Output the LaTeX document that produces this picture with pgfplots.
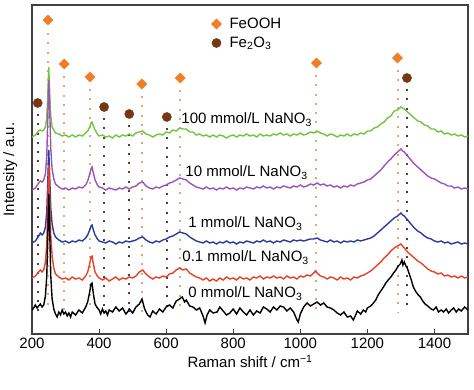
\documentclass[border=0pt]{standalone}
\usepackage{fontspec}
\setmainfont{Liberation Sans}
\usepackage{pgfplots}
\pgfplotsset{compat=1.18}
\usetikzlibrary{calc}
\definecolor{cgreen}{RGB}{112,198,62}
\definecolor{cpurple}{RGB}{155,85,185}
\definecolor{cblue}{RGB}{40,60,160}
\definecolor{cred}{RGB}{232,65,40}
\definecolor{corange}{RGB}{240,126,38}
\definecolor{cbrown}{RGB}{120,55,20}
\definecolor{dotor}{RGB}{232,165,105}
\definecolor{dotbr}{RGB}{85,62,50}
\begin{document}
\begin{tikzpicture}[font=\fontsize{15}{18}\selectfont]
\begin{axis}[
  width=436pt, height=329pt, scale only axis,
  xmin=200, xmax=1500, ymin=0, ymax=329,
  xtick={200,400,...,1400}, ytick=\empty,
  xtick pos=bottom, tick align=inside, major tick length=5pt,
  axis line style={draw=black!75, line width=1.1pt},
  every tick/.style={black!75, line width=1pt},
  /pgf/number format/assume math mode=true,
  /pgf/number format/1000 sep={},
  xlabel={Raman shift / cm\textsuperscript{−1}},
  ylabel={Intensity / a.u.},
  ylabel style={at={(axis description cs:-0.05,0.5)}, anchor=center},
  unbounded coords=jump,
  legend style={at={(axis description cs:0.411,0.967)}, anchor=north west, draw=none, fill=none, inner sep=0pt, row sep=3pt, nodes={inner sep=2pt}},
  legend cell align=left,
]
% dotted guide lines
\addplot[forget plot, dotor, line width=2pt, dash pattern=on 2pt off 7.3pt] coordinates {
(248,301)(248,22)(248,nan)
(296,258)(296,22)(296,nan)
(373,245)(373,22)(373,nan)
(527,238)(527,22)(527,nan)
(642,244)(642,22)(642,nan)
(1048,259)(1048,22)(1048,nan)
(1290,264)(1290,22)};
\addplot[forget plot, dotbr, line width=2pt, dash pattern=on 2pt off 7.3pt] coordinates {
(217,220)(217,22)(217,nan)
(415,216)(415,22)(415,nan)
(490,209)(490,22)(490,nan)
(602,206)(602,22)(602,nan)
(1318,245)(1318,22)};
% 100 mmol/L
\addplot[forget plot, cgreen, line width=1.4pt] coordinates {
(200,197)(210,199)(220,203)(225,204)(230,203)(235,204)(240,207)(244,216)(247,238)(250,267)(253,240)(256,218)(260,207)(270,201)(280,200)(290,198)(300,199)(310,197)(320,199)(330,197)(340,199)(350,198)(360,201)(366,203)(372,207)(376,211)(379,212)(383,208)(388,204)(395,200)(400,198)(410,199)(420,197)(430,198)(440,196)(450,199)(460,197)(470,199)(480,198)(490,200)(500,198)(510,201)(520,202)(530,203)(540,200)(550,199)(560,197)(570,199)(580,200)(590,199)(600,202)(610,201)(620,204)(630,203)(640,206)(650,205)(660,205)(670,202)(680,202)(690,199)(700,200)(710,198)(720,199)(730,197)(740,199)(750,197)(760,199)(770,198)(780,196)(790,198)(800,199)(810,197)(820,199)(830,198)(840,200)(850,198)(860,199)(870,197)(880,200)(890,198)(900,199)(910,198)(920,200)(930,199)(940,201)(950,199)(960,200)(970,198)(980,200)(990,199)(1000,201)(1010,199)(1020,200)(1030,202)(1040,201)(1050,203)(1060,201)(1070,200)(1080,198)(1090,200)(1100,199)(1110,197)(1120,199)(1130,198)(1140,200)(1150,198)(1160,200)(1170,199)(1180,201)(1190,200)(1200,203)(1210,203)(1220,206)(1230,207)(1240,210)(1250,212)(1260,216)(1270,218)(1280,223)(1290,224)(1300,227)(1305,226)(1310,225)(1320,222)(1330,219)(1340,216)(1350,213)(1360,212)(1370,209)(1380,208)(1390,205)(1400,205)(1410,202)(1420,203)(1430,200)(1440,201)(1450,199)(1460,200)(1470,198)(1480,199)(1490,197)(1500,198)};
% 10 mmol/L
\addplot[forget plot, cpurple, line width=1.4pt] coordinates {
(200,144)(210,146)(220,151)(225,153)(230,152)(235,154)(240,160)(244,178)(247,215)(250,254)(253,222)(256,185)(260,165)(265,155)(270,150)(280,147)(290,145)(300,146)(310,144)(320,146)(330,145)(340,147)(350,146)(360,149)(366,153)(372,160)(376,165)(379,167)(383,161)(388,154)(395,149)(400,147)(410,146)(420,144)(430,146)(440,145)(450,144)(460,146)(470,145)(480,147)(490,145)(500,147)(510,148)(520,151)(530,152)(540,148)(550,146)(560,145)(570,147)(580,146)(590,148)(600,149)(610,151)(620,152)(630,154)(640,156)(650,155)(660,154)(670,151)(680,149)(690,147)(700,146)(710,145)(720,147)(730,145)(740,146)(750,144)(760,146)(770,145)(780,147)(790,145)(800,146)(810,144)(820,146)(830,145)(840,147)(850,146)(860,145)(870,147)(880,146)(890,148)(900,146)(910,147)(920,145)(930,147)(940,146)(950,148)(960,147)(970,146)(980,148)(990,147)(1000,149)(1010,147)(1020,148)(1030,150)(1040,149)(1050,151)(1060,149)(1070,150)(1080,148)(1090,149)(1100,147)(1110,148)(1120,146)(1130,148)(1140,147)(1150,149)(1160,148)(1170,150)(1180,151)(1190,152)(1200,154)(1210,155)(1220,158)(1230,161)(1240,164)(1250,168)(1260,172)(1270,175)(1280,179)(1290,182)(1300,185)(1305,183)(1310,182)(1320,178)(1330,174)(1340,170)(1350,167)(1360,164)(1370,161)(1380,158)(1390,156)(1400,155)(1410,153)(1420,151)(1430,150)(1440,148)(1450,148)(1460,146)(1470,147)(1480,145)(1490,146)(1500,145)};
% 1 mmol/L
\addplot[forget plot, cblue, line width=1.4pt] coordinates {
(200,91)(210,93)(220,98)(225,101)(230,99)(235,101)(240,107)(244,122)(247,152)(250,184)(253,155)(256,126)(260,110)(265,101)(270,97)(280,94)(290,92)(300,93)(310,91)(320,93)(330,92)(340,94)(350,93)(360,96)(366,99)(372,104)(376,108)(379,109)(383,104)(388,99)(395,95)(400,93)(410,92)(420,91)(430,93)(440,92)(450,90)(460,92)(470,91)(480,93)(490,92)(500,93)(510,94)(520,96)(530,97)(540,94)(550,92)(560,91)(570,93)(580,92)(590,94)(600,95)(610,97)(620,98)(630,100)(640,102)(650,101)(660,100)(670,97)(680,95)(690,93)(700,92)(710,91)(720,93)(730,91)(740,92)(750,90)(760,92)(770,91)(780,93)(790,91)(800,92)(810,90)(820,92)(830,91)(840,93)(850,92)(860,91)(870,93)(880,92)(890,94)(900,92)(910,93)(920,91)(930,93)(940,92)(950,94)(960,93)(970,92)(980,94)(990,93)(1000,94)(1010,93)(1020,94)(1030,95)(1040,95)(1050,96)(1060,94)(1070,93)(1080,92)(1090,94)(1100,92)(1110,93)(1120,91)(1130,93)(1140,92)(1150,93)(1160,92)(1170,94)(1180,93)(1190,94)(1200,95)(1210,96)(1220,98)(1230,101)(1240,104)(1250,107)(1260,110)(1270,113)(1280,116)(1290,118)(1300,121)(1305,119)(1310,118)(1320,114)(1330,110)(1340,106)(1350,103)(1360,101)(1370,98)(1380,96)(1390,95)(1400,93)(1410,92)(1420,93)(1430,91)(1440,92)(1450,90)(1460,91)(1470,92)(1480,90)(1490,91)(1500,90)};
% 0.1 mmol/L
\addplot[forget plot, cred, line width=1.4pt] coordinates {
(200,56)(210,58)(220,62)(225,64)(230,62)(235,64)(240,72)(244,90)(247,128)(250,169)(253,135)(256,98)(260,78)(265,66)(270,60)(280,57)(290,55)(300,56)(310,54)(320,57)(330,55)(340,56)(350,54)(360,58)(366,62)(372,70)(376,77)(379,78)(383,70)(388,62)(395,58)(400,56)(410,54)(420,56)(430,53)(440,55)(450,57)(460,54)(470,56)(480,55)(490,57)(500,56)(510,58)(520,62)(530,64)(540,60)(550,57)(560,55)(570,57)(580,56)(590,58)(600,57)(610,60)(620,61)(630,64)(640,66)(650,64)(660,65)(670,61)(680,59)(690,57)(700,56)(710,54)(720,56)(730,53)(740,55)(750,53)(760,56)(770,54)(780,57)(790,55)(800,56)(810,54)(820,57)(830,55)(840,56)(850,54)(860,57)(870,56)(880,58)(890,55)(900,57)(910,56)(920,58)(930,56)(940,57)(950,55)(960,58)(970,56)(980,57)(990,55)(1000,58)(1010,57)(1020,59)(1030,58)(1040,61)(1045,63)(1050,61)(1060,58)(1070,57)(1080,55)(1090,57)(1100,56)(1110,54)(1120,57)(1130,55)(1140,56)(1150,54)(1160,57)(1170,56)(1180,58)(1190,59)(1200,61)(1210,63)(1220,66)(1230,69)(1240,72)(1250,76)(1260,79)(1270,83)(1280,86)(1290,88)(1300,90)(1305,88)(1310,86)(1320,82)(1330,79)(1340,76)(1350,73)(1360,71)(1370,68)(1380,65)(1390,63)(1400,62)(1410,60)(1420,61)(1430,58)(1440,59)(1450,57)(1460,58)(1470,56)(1480,58)(1490,56)(1500,57)};
% 0 mmol/L
\addplot[forget plot, black, line width=1.4pt] coordinates {
(200,24)(205,26)(210,29)(215,26)(220,28)(225,30)(230,27)(235,29)(240,38)(244,58)(247,96)(250,140)(253,100)(256,58)(260,35)(265,25)(270,20)(275,17)(280,22)(285,19)(290,24)(295,20)(300,22)(305,18)(310,21)(315,17)(320,22)(330,19)(340,24)(350,21)(360,27)(366,32)(372,42)(376,50)(379,51)(383,40)(388,30)(393,27)(400,24)(405,20)(410,25)(415,21)(420,23)(425,19)(430,24)(440,22)(450,27)(455,25)(460,23)(470,26)(480,20)(485,22)(490,25)(500,21)(510,27)(520,30)(528,35)(535,26)(540,22)(545,19)(552,17)(560,23)(570,20)(580,25)(590,22)(600,27)(610,29)(620,26)(630,33)(640,35)(648,37)(655,32)(660,34)(670,28)(680,27)(690,24)(700,26)(710,18)(716,11)(722,19)(730,24)(740,21)(752,22)(760,27)(770,23)(780,19)(790,21)(800,25)(810,20)(820,26)(830,22)(840,19)(850,24)(860,19)(870,23)(880,21)(890,27)(900,25)(910,22)(920,27)(930,24)(940,28)(950,27)(960,23)(970,26)(980,22)(990,14)(994,12)(1000,20)(1010,27)(1020,31)(1030,28)(1040,30)(1050,32)(1060,29)(1070,31)(1080,27)(1090,26)(1100,24)(1110,21)(1120,19)(1130,22)(1140,17)(1150,18)(1158,14)(1165,19)(1170,23)(1180,20)(1188,24)(1195,22)(1200,26)(1210,28)(1218,31)(1225,34)(1232,39)(1240,43)(1248,47)(1255,51)(1262,54)(1270,57)(1278,61)(1285,64)(1292,68)(1298,70)(1303,74)(1306,69)(1310,72)(1315,68)(1319,66)(1325,60)(1330,55)(1337,47)(1345,42)(1352,39)(1358,37)(1365,33)(1372,30)(1380,28)(1390,25)(1397,24)(1405,27)(1412,22)(1420,24)(1427,22)(1435,25)(1442,21)(1450,24)(1457,26)(1465,22)(1472,25)(1480,23)(1490,27)(1500,24)};
% markers
\addplot[only marks, mark=square*, mark size=3.6pt, color=corange, mark options={rotate=45, fill=corange, draw=corange}] coordinates {
(248,314)(296,270)(373,257)(527,250)(642,256)(1048,271)(1290,276)};
\addlegendentry{\hspace{6pt}FeOOH}
\addplot[only marks, mark=*, mark size=4.6pt, color=cbrown, mark options={fill=cbrown, draw=cbrown}] coordinates {
(217,231)(415,227)(490,220)(602,217)(1318,256)};
\addlegendentry{\hspace{6pt}Fe\textsubscript{2}O\textsubscript{3}}
% labels
\node[anchor=base west, inner sep=0pt] at (axis cs:645,210) {100 mmol/L NaNO\textsubscript{3}};
\node[anchor=base west, inner sep=0pt] at (axis cs:657,157) {10 mmol/L NaNO\textsubscript{3}};
\node[anchor=base west, inner sep=0pt] at (axis cs:666,106) {1 mmol/L NaNO\textsubscript{3}};
\node[anchor=base west, inner sep=0pt] at (axis cs:648,72) {0.1 mmol/L NaNO\textsubscript{3}};
\node[anchor=base west, inner sep=0pt] at (axis cs:666,36) {0 mmol/L NaNO\textsubscript{3}};
\end{axis}
\pgfresetboundingbox
\path[use as bounding box] ($(current axis.south west)+(-32pt,-56pt)$) rectangle ($(current axis.north east)+(6pt,5pt)$);
\end{tikzpicture}
\end{document}
